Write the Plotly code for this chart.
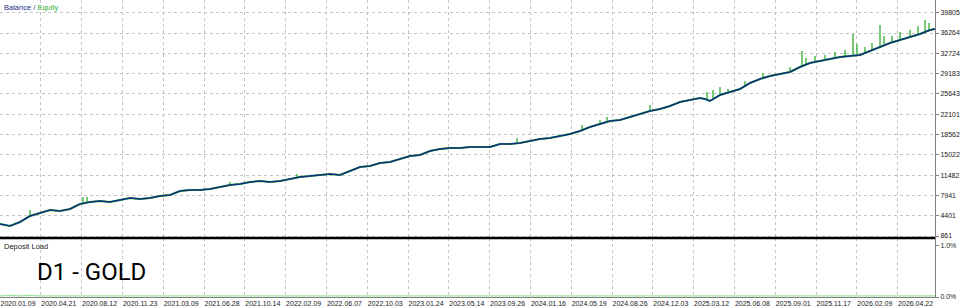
import plotly.graph_objects as go

# ---- data ----
deal = [0, 10, 20, 30, 40, 50, 60, 70, 80, 90, 100, 110, 120, 130, 140, 150, 160, 170, 180, 190,
        200, 210, 220, 230, 240, 250, 260, 270, 280, 290, 300, 310, 320, 330, 340, 350, 360, 370, 380, 390,
        400, 410, 420, 430, 440, 450, 460, 470, 480, 490, 500, 510, 520, 530, 540, 550, 560, 570, 580, 590,
        600, 610, 620, 630, 640, 650, 660, 670, 680, 690, 700, 705, 710, 720, 730, 740, 750, 760, 770, 780,
        790, 800, 810, 820, 830, 840, 850, 860, 870, 880, 890, 900, 910, 920, 930, 935]
balance = [2954, 2605, 3303, 4349, 4872, 5395, 5221, 5570, 6442, 6791, 6965, 6791, 7139, 7488, 7314, 7488, 7837, 8011, 8709, 8883,
           8883, 9058, 9407, 9755, 9930, 10279, 10453, 10279, 10453, 10802, 11151, 11325, 11499, 11674, 11499, 12197, 12895, 13069, 13592, 13767,
           14290, 14813, 14987, 15685, 16034, 16208, 16208, 16383, 16383, 16383, 16906, 16906, 17080, 17429, 17778, 17952, 18301, 18650, 19173, 19871,
           20394, 20917, 21091, 21615, 22138, 22661, 23010, 23533, 24231, 24579, 24928, 24754, 24405, 25451, 25975, 26498, 27544, 28242, 28765, 29114,
           29463, 30335, 31032, 31381, 31730, 32079, 32253, 32427, 33125, 33823, 34520, 35043, 35567, 36090, 36787, 36962]

spike_deal = [30, 83, 87, 230, 297, 517, 582, 600, 607, 650, 707, 713, 720, 728, 745, 763, 790, 802, 806, 815,
              825, 835, 845, 853, 857, 865, 872, 880, 884, 892, 900, 910, 918, 925, 929]
spike_low = [4349, 6616, 6791, 9755, 11151, 16906, 19347, 20394, 20917, 22661, 24579, 24754, 25451, 25800, 27021, 28416, 29463, 30509, 30684, 31206,
             31555, 31904, 32079, 32253, 32427, 32776, 33125, 33823, 34000, 34520, 35043, 35567, 36090, 36439, 36613]
spike_high = [5395, 7663, 7663, 10279, 11674, 17952, 20219, 21091, 21615, 23707, 25975, 26323, 26847, 26498, 27893, 29288, 30335, 33125, 31904, 32253,
              32427, 32951, 33299, 36090, 34346, 33823, 34520, 37659, 35741, 35741, 36439, 36787, 37485, 38531, 38008]

deposit_load = [0.02, 0.03, 0.02, 0.03, 0.02, 0.02, 0.03, 0.02, 0.02, 0.03, 0.02, 0.03, 0.02, 0.02, 0.03, 0.02, 0.02, 0.03, 0.02, 0.03,
                0.02, 0.02, 0.03, 0.02, 0.03, 0.02, 0.02, 0.03, 0.02, 0.02, 0.03, 0.02, 0.03, 0.02, 0.02, 0.03, 0.02, 0.02, 0.03, 0.02,
                0.03, 0.02, 0.02, 0.03, 0.02, 0.02, 0.03, 0.02, 0.03, 0.02, 0.02, 0.03, 0.02, 0.02, 0.03, 0.02, 0.03, 0.02, 0.02, 0.03,
                0.02, 0.02, 0.03, 0.02, 0.03, 0.02, 0.02, 0.03, 0.02, 0.02, 0.03, 0.02, 0.03, 0.02, 0.02, 0.03, 0.02, 0.02, 0.03, 0.02,
                0.03, 0.02, 0.02, 0.03, 0.02, 0.02, 0.03, 0.02, 0.03, 0.02, 0.02, 0.03, 0.02, 0.02, 0.03, 0.02]

x_tick_labels = ["2020.01.09", "2020.04.21", "2020.08.12", "2020.11.23", "2021.03.09", "2021.06.28", "2021.10.14",
                 "2022.02.09", "2022.06.07", "2022.10.03", "2023.01.24", "2023.05.14", "2023.09.26", "2024.01.16",
                 "2024.05.19", "2024.08.26", "2024.12.03", "2025.03.12", "2025.06.08", "2025.09.01", "2025.11.17",
                 "2026.02.09", "2026.04.22"]
y_tick_labels = ["861", "4401", "7941", "11482", "15022", "18562", "22101", "25643", "29183", "32724", "36264", "39805"]
load_tick_labels = ["0.0%", "1.0%"]

# ---- styling ----
BAL_COLOR = "#0f2f80"
EQ_COLOR = "#2fae2f"
GRID = "#c4c4c4"
BORDER = "#808080"
TICK_STEP = 40.8
FONT = "Liberation Sans"

x_tickvals = [i * TICK_STEP for i in range(len(x_tick_labels))]
y_tickvals = [float(v) for v in y_tick_labels]
load_tickvals = [float(v.rstrip("%")) for v in load_tick_labels]

sx, sy = [], []
for d, lo, hi in zip(spike_deal, spike_low, spike_high):
    sx += [d, d, None]
    sy += [lo, hi, None]

fig = go.Figure()
fig.add_trace(go.Scatter(x=deal, y=balance, mode="lines", line=dict(color=EQ_COLOR, width=2.0),
                         xaxis="x2", yaxis="y2", showlegend=False, hoverinfo="skip"))
fig.add_trace(go.Scatter(x=sx, y=sy, mode="lines", line=dict(color=EQ_COLOR, width=1.3),
                         xaxis="x2", yaxis="y2", showlegend=False, hoverinfo="skip"))
fig.add_trace(go.Scatter(x=deal, y=balance, mode="lines", line=dict(color=BAL_COLOR, width=1.5),
                         xaxis="x2", yaxis="y2", showlegend=False))
fig.add_trace(go.Scatter(x=deal, y=deposit_load, mode="lines", line=dict(color="#9ee09e", width=1.2),
                         xaxis="x", yaxis="y", showlegend=False))

H_PLOT = 297
split = (H_PLOT - 238) / H_PLOT
xdom = [0, 935 / 960]
ymin = 861 - 2 * 174.4
ymax = 861 + 236 * 174.4

fig.update_layout(
    width=960, height=307,
    margin=dict(l=0, r=0, t=0, b=10),
    paper_bgcolor="white", plot_bgcolor="white",
    font=dict(family=FONT, size=7, color="#202020"),
    xaxis=dict(domain=xdom, range=[0, 935], anchor="y", tickvals=x_tickvals, ticktext=x_tick_labels,
               ticklabelposition="outside right", tickangle=0, automargin=False, ticks="",
               showgrid=True, gridcolor=GRID, griddash="dot",
               gridwidth=1, showline=True, linecolor=BORDER, mirror=True, zeroline=False,
               tickfont=dict(size=7, family=FONT, color="#202020")),
    yaxis=dict(domain=[0, split], range=[0, 1.15], side="right", anchor="x", tickvals=load_tickvals,
               ticktext=load_tick_labels, showgrid=False, zeroline=False, showline=True, linecolor=BORDER,
               mirror=True, ticks="outside", ticklen=3, tickcolor=BORDER, automargin=False,
               tickfont=dict(size=7, family=FONT, color="#202020")),
    xaxis2=dict(domain=xdom, range=[0, 935], anchor="y2", matches="x", tickvals=x_tickvals,
                showticklabels=False, ticks="", showgrid=True, gridcolor=GRID, griddash="dot", gridwidth=1,
                showline=True, linecolor=BORDER, mirror=True, zeroline=False, automargin=False),
    yaxis2=dict(domain=[split, 1], range=[ymin, ymax], side="right", anchor="x2", tickvals=y_tickvals,
                ticktext=y_tick_labels, showgrid=True, gridcolor=GRID, griddash="dot", gridwidth=1,
                zeroline=False, showline=True, linecolor=BORDER, mirror=True, ticks="outside", ticklen=3,
                tickcolor=BORDER, automargin=False, tickfont=dict(size=7, family=FONT, color="#202020")),
)

# separator between the panes
fig.add_shape(type="line", xref="paper", yref="paper", x0=xdom[0], x1=xdom[1], y0=split, y1=split,
              line=dict(color="black", width=2.5))

fig.add_annotation(xref="paper", yref="paper", x=0.002, y=0.997, xanchor="left", yanchor="top",
                   text="<span style='color:#1c2a8a'>Balance</span><span style='color:#3a4a8a'> / </span>"
                        "<span style='color:#2fae2f'>Equity</span>",
                   showarrow=False, font=dict(size=7.5, family=FONT))
fig.add_annotation(xref="paper", yref="paper", x=0.002, y=split - 0.008, xanchor="left", yanchor="top",
                   text="Deposit Load", showarrow=False, font=dict(size=7.5, family=FONT, color="#202020"))
fig.add_annotation(xref="paper", yref="paper", x=35 / 960, y=(H_PLOT - 272) / H_PLOT, xanchor="left",
                   yanchor="middle", text="D1 - GOLD", showarrow=False,
                   font=dict(size=24, family="Roboto", color="black"))

fig.write_html("out.html")
